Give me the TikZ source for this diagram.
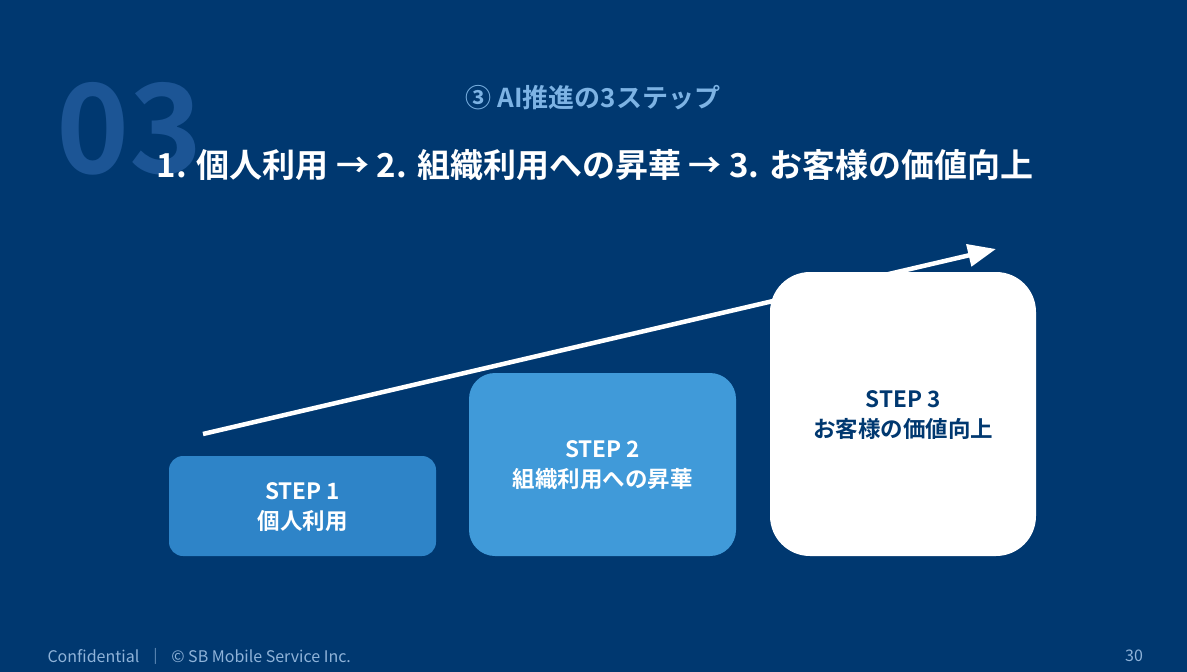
\documentclass[tikz,border=0pt]{standalone}
\usepackage{fontspec}
\setmainfont{Noto Sans CJK JP}[BoldFont={* Bold}]
\usetikzlibrary{arrows.meta}
\definecolor{bg}{HTML}{003870}
\definecolor{bigno}{HTML}{1C5595}
\definecolor{subt}{HTML}{7DB3E4}
\definecolor{boxA}{HTML}{2E84C8}
\definecolor{boxB}{HTML}{409AD9}
\definecolor{foot}{HTML}{8FB3D9}
\tikzset{
  steptext/.style={font=\bfseries\fontsize{22.5}{30}\selectfont, align=center},
}
\begin{document}
\begin{tikzpicture}[x=1pt,y=-1pt]
\fill[bg] (0,0) rectangle (1187,672);
\useasboundingbox (0,0) rectangle (1187,672);
% big number
\node[anchor=base west, inner sep=0pt, text=bigno, font=\bfseries\fontsize{124}{124}\selectfont] (num) at (56,173) {03};
% subtitle
\node[text=subt, font=\bfseries\fontsize{26}{30}\selectfont] (sub) at (593,98) {③ AI推進の3ステップ};
% title
\node[text=white, font=\bfseries\fontsize{33}{38}\selectfont] (title) at (595,165) {1. 個人利用 → 2. 組織利用への昇華 → 3. お客様の価値向上};
% arrow
\coordinate (a0) at (203,434);
\coordinate (a1) at (996,249);
\draw[white, line width=4.5pt, -{Triangle[length=28pt,width=22pt]}] (a0) -- (a1);
% boxes
\fill[boxA, rounded corners=14pt] (169,456) rectangle (436,556);
\node[steptext, text=white] (s1) at (302.5,507) {STEP 1\\個人利用};
\fill[boxB, rounded corners=26pt] (469,373) rectangle (736,556);
\node[steptext, text=white] (s2) at (602.5,465) {STEP 2\\組織利用への昇華};
\fill[white, rounded corners=40pt] (770,272) rectangle (1036,556);
\node[steptext, text=bg] (s3) at (903,415) {STEP 3\\お客様の価値向上};
% footer
\node[anchor=west, text=foot, font=\fontsize{16}{18}\selectfont] (conf) at (44,656) {Confidential\enspace｜\enspace© SB Mobile Service Inc.};
\node[text=foot, font=\fontsize{16}{18}\selectfont] (page) at (1134,656) {30};
\end{tikzpicture}
\end{document}
